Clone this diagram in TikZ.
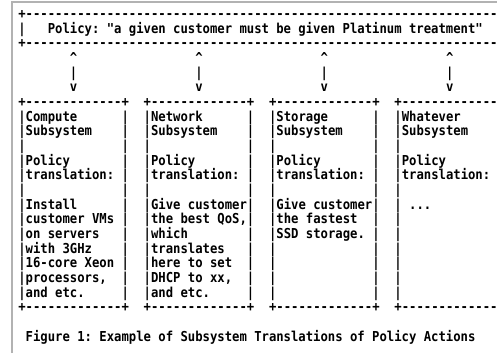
\documentclass[tikz,border=0pt]{standalone}
\usepackage{fontspec}
\setmonofont[FakeStretch=0.894]{DejaVu Sans Mono}
\tikzset{
  ascii/.style={inner sep=0pt, outer sep=0pt, anchor=base west, text=black,
    font=\ttfamily\bfseries\fontsize{13.7}{14}\selectfont\frenchspacing},
  frame/.style={draw=black!30, line width=2pt}
}
\newcommand\dd{-------------}
\newcommand\cell[4]{\node[ascii] (#1) at ({18.31+7.374*(#2)},{334.5-14.66*(#3)}) {#4};}
\begin{document}
\begin{tikzpicture}[x=1pt,y=1pt]
\useasboundingbox (0,0) rectangle (497,353);
\clip (0,0) rectangle (497,353);
\coordinate (fA) at (12.2,0);
\coordinate (fB) at (12.2,350.5);
\coordinate (fC) at (497,350.5);
\draw[frame] (fA) -- (fB) -- (fC);
% policy header (cut off at the right edge, as in the reference)
\cell{hd-t}{0}{0}{+\dd\dd\dd\dd\dd}
\cell{hd-l}{0}{1}{|}
\cell{hd-txt}{4}{1}{Policy: "a given customer must be given Platinum treatment"}
\cell{hd-b}{0}{2}{+\dd\dd\dd\dd\dd}
% arrows
\foreach \i/\c in {1/7,2/24,3/41,4/58}{
  \cell{up\i}{\c}{3}{\textasciicircum}
  \cell{sh\i}{\c}{4}{|}
  \cell{dn\i}{\c}{5}{v}
}
% boxes
\foreach \b/\c in {1/0,2/17,3/34}{
  \cell{b\b-t}{\c}{6}{+\dd+}
  \cell{b\b-b}{\c}{20}{+\dd+}
  \foreach \r in {7,...,19}{
    \cell{b\b-l\r}{\c}{\r}{|}
    \cell{b\b-r\r}{\c+14}{\r}{|}
  }
}
% box 4 (its right side lies beyond the edge)
\cell{b4-t}{51}{6}{+\dd}
\cell{b4-b}{51}{20}{+\dd}
\foreach \r in {7,...,19}{
  \cell{b4-l\r}{51}{\r}{|}
}
% box 1
\cell{c1-7}{1}{7}{Compute}
\cell{c1-8}{1}{8}{Subsystem}
\cell{c1-10}{1}{10}{Policy}
\cell{c1-11}{1}{11}{translation:}
\cell{c1-13}{1}{13}{Install}
\cell{c1-14}{1}{14}{customer VMs}
\cell{c1-15}{1}{15}{on servers}
\cell{c1-16}{1}{16}{with 3GHz}
\cell{c1-17}{1}{17}{16-core Xeon}
\cell{c1-18}{1}{18}{processors,}
\cell{c1-19}{1}{19}{and etc.}
% box 2
\cell{c2-7}{18}{7}{Network}
\cell{c2-8}{18}{8}{Subsystem}
\cell{c2-10}{18}{10}{Policy}
\cell{c2-11}{18}{11}{translation:}
\cell{c2-13}{18}{13}{Give customer}
\cell{c2-14}{18}{14}{the best QoS,}
\cell{c2-15}{18}{15}{which}
\cell{c2-16}{18}{16}{translates}
\cell{c2-17}{18}{17}{here to set}
\cell{c2-18}{18}{18}{DHCP to xx,}
\cell{c2-19}{18}{19}{and etc.}
% box 3
\cell{c3-7}{35}{7}{Storage}
\cell{c3-8}{35}{8}{Subsystem}
\cell{c3-10}{35}{10}{Policy}
\cell{c3-11}{35}{11}{translation:}
\cell{c3-13}{35}{13}{Give customer}
\cell{c3-14}{35}{14}{the fastest}
\cell{c3-15}{35}{15}{SSD storage.}
% box 4
\cell{c4-7}{52}{7}{Whatever}
\cell{c4-8}{52}{8}{Subsystem}
\cell{c4-10}{52}{10}{Policy}
\cell{c4-11}{52}{11}{translation:}
\cell{c4-13}{53}{13}{...}
% caption
\cell{cap}{1}{22}{Figure 1: Example of Subsystem Translations of Policy Actions}
\end{tikzpicture}
\end{document}
